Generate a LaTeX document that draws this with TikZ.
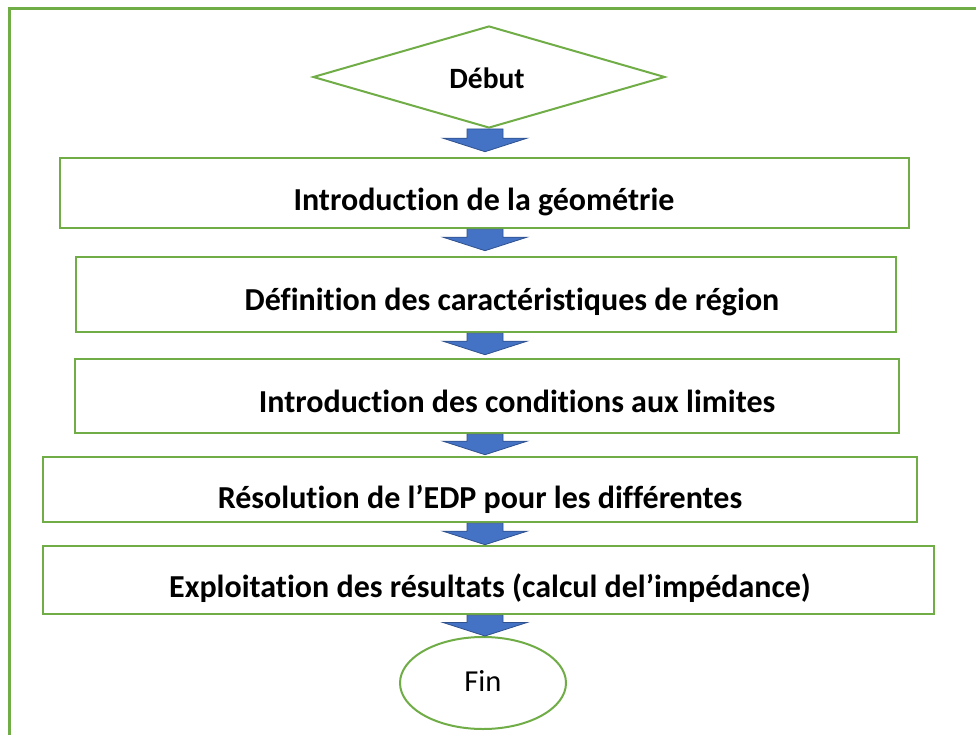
\documentclass[tikz,border=0pt]{standalone}
\usepackage{fontspec}
\setmainfont{Carlito}[Ligatures={NoCommon,NoContextual}]
\usetikzlibrary{shapes.geometric,calc}
\definecolor{lgreen}{HTML}{70AD47}
\definecolor{ablue}{HTML}{4472C4}
\definecolor{ablueedge}{HTML}{2F528F}
\tikzset{
  box/.style={draw=lgreen, line width=2.6pt, rectangle, inner sep=0pt},
  lbl/.style={font=\fontsize{32}{34}\selectfont\bfseries, anchor=base, inner sep=0pt},
  barrow/.style={fill=ablue, draw=ablueedge, line width=0.8pt, line join=miter},
}
\newcommand{\blockarr}[2]{%
  \path let \p1=(#1), \p2=(#2) in [barrow]
    (485,\y1) -- (503,\y1) -- (503,\y2+13.5) -- (527,\y2+13.5) -- (485,\y2)
    -- (443,\y2+13.5) -- (467,\y2+13.5) -- (467,\y1) -- cycle;}
\begin{document}
\begin{tikzpicture}[x=1pt,y=1pt]
\useasboundingbox (0,0) rectangle (976,-735);
\clip (0,0) rectangle (976,-735);
\fill[white] (0,0) rectangle (976,-735);
% outer frame
\draw[lgreen, line width=3pt] (9.5,-1000) -- (9.5,-8.5) -- (1100,-8.5);
% start diamond
\node[diamond, draw=lgreen, line width=2pt, minimum width=352pt, minimum height=102pt, aspect=3.45, inner sep=0pt] (start) at (489,-77) {};
\node[lbl, font=\fontsize{29.5}{31}\selectfont\bfseries] (tstart) at (487,-89) {Début};
% boxes
\node[box, minimum width=849pt, minimum height=70pt] (b1) at (484.5,-193) {};
\node[box, minimum width=820pt, minimum height=75pt] (b2) at (486,-294.5) {};
\node[box, minimum width=824pt, minimum height=74pt] (b3) at (487,-396) {};
\node[box, minimum width=874pt, minimum height=65pt] (b4) at (480,-489.5) {};
\node[box, minimum width=891pt, minimum height=68pt] (b5) at (488.5,-580) {};
\node[lbl] (t1) at (484,-210.5) {Introduction de la géométrie};
\node[lbl] (t2) at (512,-310) {Définition des caractéristiques de région};
\node[lbl] (t3) at (517,-412) {Introduction des conditions aux limites};
\node[lbl] (t4) at (480,-508) {Résolution de l’EDP pour les différentes};
\node[lbl] (t5) at (490,-597) {Exploitation des résultats (calcul del’impédance)};
% end ellipse
\node[ellipse, draw=lgreen, line width=2pt, minimum width=166pt, minimum height=92pt, inner sep=0pt] (fin) at (483,-683) {};
\node[lbl, font=\fontsize{30.5}{32}\selectfont] (tfin) at (483,-691.5) {Fin};
% arrows
\coordinate (p1) at ($(b1.north)+(0,5)$);
\coordinate (p2) at ($(b2.north)+(0,5)$);
\coordinate (p3) at ($(b3.north)+(0,3)$);
\coordinate (p4) at ($(b4.north)+(0,1)$);
\coordinate (p5) at ($(b5.north)+(0,0)$);
\coordinate (p6) at ($(fin.north)+(0,0)$);
\blockarr{start.south}{p1}
\blockarr{b1.south}{p2}
\blockarr{b2.south}{p3}
\blockarr{b3.south}{p4}
\blockarr{b4.south}{p5}
\blockarr{b5.south}{p6}
\end{tikzpicture}
\end{document}
